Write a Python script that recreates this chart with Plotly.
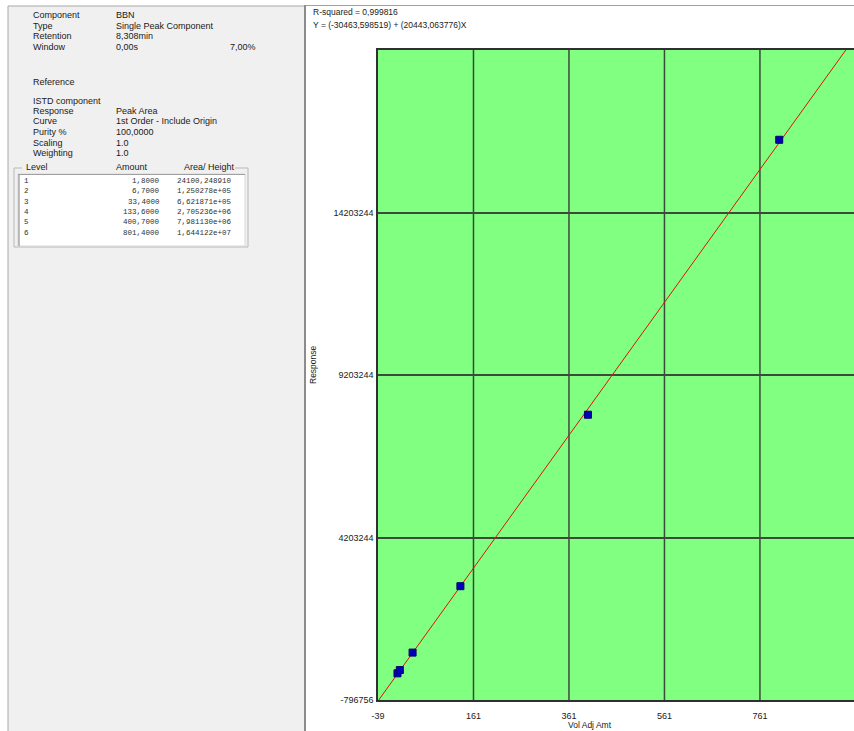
import plotly.graph_objects as go

# ---- data ----
levels = ["1", "2", "3", "4", "5", "6"]
amounts = [1.8, 6.7, 33.4, 133.6, 400.7, 801.4]
amount_labels = ["1,8000", "6,7000", "33,4000", "133,6000", "400,7000", "801,4000"]
responses = [24100.248910, 125027.8, 662187.1, 2705236, 7981130, 16441220]
response_labels = ["24100,248910", "1,250278e+05", "6,621871e+05", "2,705236e+06",
                   "7,981130e+06", "1,644122e+07"]
intercept = -30463.598519
slope = 20443.063776
r_squared_label = "0,999816"
x_ticks = [-39, 161, 361, 561, 761]
y_ticks = [-796756, 4203244, 9203244, 14203244]
x_range = [-39, 958]
y_range = [-796756, 19203244]
fit_x = [-39, 961]

info_labels = ["Component", "Type", "Retention", "Window"]
info_values = ["BBN", "Single Peak Component", "8,308min", "0,00s"]
info2_labels = ["ISTD component", "Response", "Curve", "Purity %", "Scaling", "Weighting"]
info2_values = ["", "Peak Area", "1st Order - Include Origin", "100,0000", "1.0", "1.0"]

# ---- geometry (pixels) ----
W, H = 854, 731
L, R, T, B = 378, 0, 50, 31
PW = W - L - R
PH = H - T - B


def px(x):
    return (x - L) / PW


def py(y):
    return (H - B - y) / PH


fig = go.Figure()

fit_y = [intercept + slope * v for v in fit_x]
fig.add_trace(go.Scatter(x=fit_x, y=fit_y, mode="lines",
                         line=dict(color="#e01010", width=1), hoverinfo="skip"))
fig.add_trace(go.Scatter(x=amounts, y=responses, mode="markers",
                         marker=dict(symbol="square", size=7, color="#0000b8",
                                     line=dict(color="#00006a", width=1))))

shapes = []
# left gray panel
shapes.append(dict(type="rect", xref="paper", yref="paper", x0=px(8), x1=px(304), y0=py(731), y1=py(6),
                   fillcolor="#f0f0f0", line=dict(width=0), layer="below"))
shapes.append(dict(type="line", xref="paper", yref="paper", x0=px(8), x1=px(8), y0=py(731), y1=py(6),
                   line=dict(color="#a8a8a8", width=1)))
shapes.append(dict(type="line", xref="paper", yref="paper", x0=px(8), x1=px(304), y0=py(6), y1=py(6),
                   line=dict(color="#a8a8a8", width=1)))
# separator
shapes.append(dict(type="line", xref="paper", yref="paper", x0=px(305), x1=px(305), y0=py(731), y1=py(5),
                   line=dict(color="#8c8c8c", width=2)))
# right panel top border
shapes.append(dict(type="line", xref="paper", yref="paper", x0=px(306), x1=px(854), y0=py(5.5), y1=py(5.5),
                   line=dict(color="#a0a0a0", width=1)))
# group box
gb = "#b8b8b8"
for (x0, y0, x1, y1) in [(14, 168, 22, 168), (235, 168, 248, 168), (14, 168, 14, 247),
                         (248, 168, 248, 247), (14, 247, 248, 247)]:
    shapes.append(dict(type="line", xref="paper", yref="paper", x0=px(x0), x1=px(x1), y0=py(y0), y1=py(y1),
                       line=dict(color=gb, width=1)))
# list box
shapes.append(dict(type="rect", xref="paper", yref="paper", x0=px(18), x1=px(245), y0=py(246), y1=py(174),
                   fillcolor="white", line=dict(color="#d8d8d8", width=1)))
shapes.append(dict(type="line", xref="paper", yref="paper", x0=px(19), x1=px(19), y0=py(246), y1=py(174),
                   line=dict(color="#808080", width=1)))
shapes.append(dict(type="line", xref="paper", yref="paper", x0=px(18), x1=px(245), y0=py(174.5), y1=py(174.5),
                   line=dict(color="#a0a0a0", width=1)))
# vertical grid lines
for xv in x_ticks[1:]:
    shapes.append(dict(type="line", xref="x", yref="paper", x0=xv, x1=xv, y0=0, y1=1,
                       line=dict(color="#3c4a3c", width=1.5), layer="below"))

ann = []
SF = "Liberation Sans"


def text(x, y, s, size=9, anchor="left", font=SF, color="#1a1a1a"):
    ann.append(dict(xref="paper", yref="paper", x=px(x), y=py(y), text=s, showarrow=False,
                    xanchor=anchor, yanchor="middle", font=dict(family=font, size=size, color=color)))


rows1 = [15, 26, 36.5, 47]
for lab, val, yy in zip(info_labels, info_values, rows1):
    text(31, yy, lab)
    text(114, yy, val)
text(258, 47, "7,00%", anchor="right")
text(31, 82, "Reference")
rows2 = [100.5, 111, 121.5, 132, 142.5, 153]
for lab, val, yy in zip(info2_labels, info2_values, rows2):
    text(31, yy, lab)
    if val:
        text(114, yy, val)
text(24, 167, "Level")
text(114, 167, "Amount")
text(182, 167, "Area/ Height")

rows3 = [181, 191.3, 201.6, 211.9, 222.2, 232.5]
MF = "Liberation Mono"
for lv, a, r, yy in zip(levels, amount_labels, response_labels, rows3):
    text(22, yy, lv, size=7.5, font=MF, color="#303030")
    text(162, yy, a, size=7.5, font=MF, anchor="right", color="#303030")
    text(175, yy, r, size=7.5, font=MF, color="#303030")

text(311, 12, "R-squared = " + r_squared_label, size=8.5)
text(311, 25, "Y = (-30463,598519) + (20443,063776)X", size=8.5)
text(590, 725, "Vol Adj Amt", size=8.5, anchor="center")
ann.append(dict(xref="paper", yref="paper", x=px(313), y=py(365), text="Response", showarrow=False,
                textangle=-90, xanchor="center", yanchor="middle",
                font=dict(family=SF, size=8.5, color="#1a1a1a")))

fig.update_layout(
    width=W, height=H,
    margin=dict(l=L, r=R, t=T, b=B, pad=0),
    paper_bgcolor="white",
    plot_bgcolor="#80ff80",
    showlegend=False,
    shapes=shapes,
    annotations=ann,
)
fig.update_xaxes(range=x_range, tickvals=x_ticks, ticktext=[str(v) for v in x_ticks],
                 showgrid=False, zeroline=False, showline=True, mirror=True,
                 linecolor="#303030", linewidth=1.5,
                 ticks="outside", ticklen=6, tickcolor="rgba(0,0,0,0)",
                 tickfont=dict(family=SF, size=9, color="#1a1a1a"))
fig.update_yaxes(range=y_range, tickvals=y_ticks, ticktext=[str(v) for v in y_ticks],
                 showgrid=True, gridcolor="#3c4a3c", gridwidth=1.5, zeroline=False,
                 showline=True, mirror=False, linecolor="#303030", linewidth=1.5,
                 ticks="outside", ticklen=1, tickcolor="rgba(0,0,0,0)",
                 tickfont=dict(family=SF, size=9, color="#1a1a1a"))

fig.write_html("out.html", config={"displayModeBar": False},
               post_script="document.body.style.margin='0px';document.body.style.overflow='hidden';")
